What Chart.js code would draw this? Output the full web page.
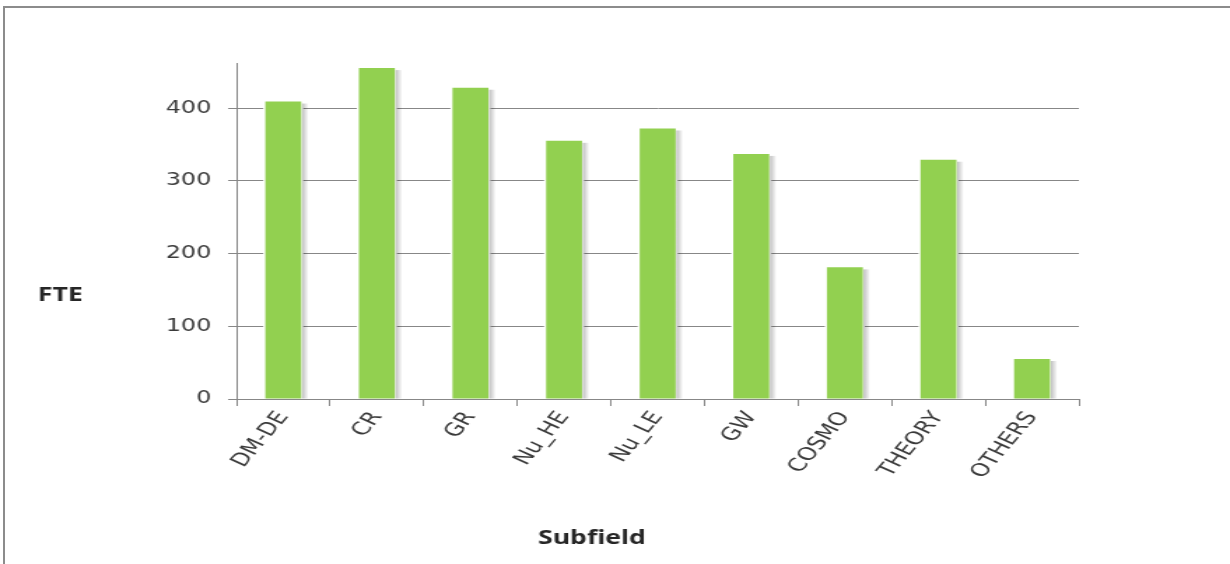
<!DOCTYPE html>
<html>
<head>
<meta charset="utf-8">
<script src="https://cdn.jsdelivr.net/npm/chart.js@4"></script>
<style>
  html, body { margin: 0; padding: 0; background: #fff; overflow: hidden; }
  #wrap { position: relative; width: 1230px; height: 564px; overflow: hidden; }
  #frame { position: absolute; left: 3px; top: 6px; width: 1240px; height: 600px;
           border-left: 2px solid #8c8c8c; border-top: 2px solid #8c8c8c; }
  /* the original picture is stretched sideways, so the canvas is too */
  #fteChart { position: absolute; left: 0; top: 0; transform: scaleX(1.3993); transform-origin: 0 0; }
</style>
</head>
<body>
<div id="wrap">
  <canvas id="fteChart" width="879" height="564"></canvas>
  <div id="frame"></div>
</div>
<script>
const categories = ['DM-DE', 'CR', 'GR', 'Nu_HE', 'Nu_LE', 'GW', 'COSMO', 'THEORY', 'OTHERS'];
const fteValues = [409, 455, 428, 355, 372, 337, 181, 329, 55];
const yTickValues = [0, 100, 200, 300, 400];
const yAxisTitle = 'FTE';
const xAxisTitle = 'Subfield';

const gridGray = '#878787';
const labelColor = '#3a3a3a';

// white gap + soft shadow behind each bar (cuts the gridlines like the original)
const barShadow = {
  id: 'barShadow',
  beforeDatasetsDraw(chart) {
    const ctx = chart.ctx;
    const meta = chart.getDatasetMeta(0);
    ctx.save();
    meta.data.forEach(bar => {
      const p = bar.getProps(['x', 'y', 'base', 'width'], true);
      const left = p.x - p.width / 2;
      const right = p.x + p.width / 2;
      ctx.fillStyle = '#ffffff';
      ctx.fillRect(left - 1.5, p.y - 2, p.width + 3, p.base - p.y + 1);
      const g = ctx.createLinearGradient(right + 0.5, 0, right + 5, 0);
      g.addColorStop(0, 'rgba(0,0,0,0.25)');
      g.addColorStop(1, 'rgba(0,0,0,0.02)');
      ctx.fillStyle = g;
      ctx.fillRect(right + 0.5, p.y + 2, 4.5, p.base - p.y - 2);
    });
    ctx.restore();
  }
};

// horizontal axis titles placed like the original
const axisTitles = {
  id: 'axisTitles',
  afterDraw(chart) {
    const ctx = chart.ctx;
    ctx.save();
    ctx.fillStyle = '#262626';
    ctx.font = 'bold 19px "Open Sans", sans-serif';
    ctx.textAlign = 'center';
    ctx.textBaseline = 'middle';
    ctx.fillText(yAxisTitle, 43, 296);
    ctx.fillText(xAxisTitle, 423, 539);
    ctx.restore();
  }
};

const ctx = document.getElementById('fteChart').getContext('2d');
new Chart(ctx, {
  type: 'bar',
  data: {
    labels: categories,
    datasets: [{
      label: yAxisTitle,
      data: fteValues,
      backgroundColor: '#92d050',
      borderWidth: 0,
      barPercentage: 0.384,
      categoryPercentage: 1.0
    }]
  },
  options: {
    responsive: false,
    animation: false,
    layout: { padding: { top: 63, right: 108, bottom: 0, left: 0 } },
    plugins: {
      legend: { display: false },
      tooltip: { enabled: false }
    },
    scales: {
      x: {
        offset: true,
        grid: { display: true, drawOnChartArea: false, drawTicks: true, tickLength: 7, color: gridGray, offset: true },
        border: { display: true, color: gridGray, width: 1 },
        ticks: {
          color: labelColor,
          font: { family: '"DejaVu Sans", Verdana, sans-serif', size: 18 },
          minRotation: 58, maxRotation: 58,
          padding: 2,
          autoSkip: false
        },
        afterFit(scale) { scale.height = 165; }
      },
      y: {
        min: 0,
        max: 462,
        afterBuildTicks(scale) { scale.ticks = yTickValues.map(v => ({ value: v })); },
        grid: { color: gridGray, drawTicks: true, tickLength: 6 },
        border: { display: true, color: gridGray, width: 1 },
        ticks: {
          color: labelColor,
          font: { family: '"DejaVu Sans", Verdana, sans-serif', size: 17 },
          padding: 12
        },
        afterFit(scale) { scale.width = 169; }
      }
    }
  },
  plugins: [barShadow, axisTitles]
});
</script>
</body>
</html>
